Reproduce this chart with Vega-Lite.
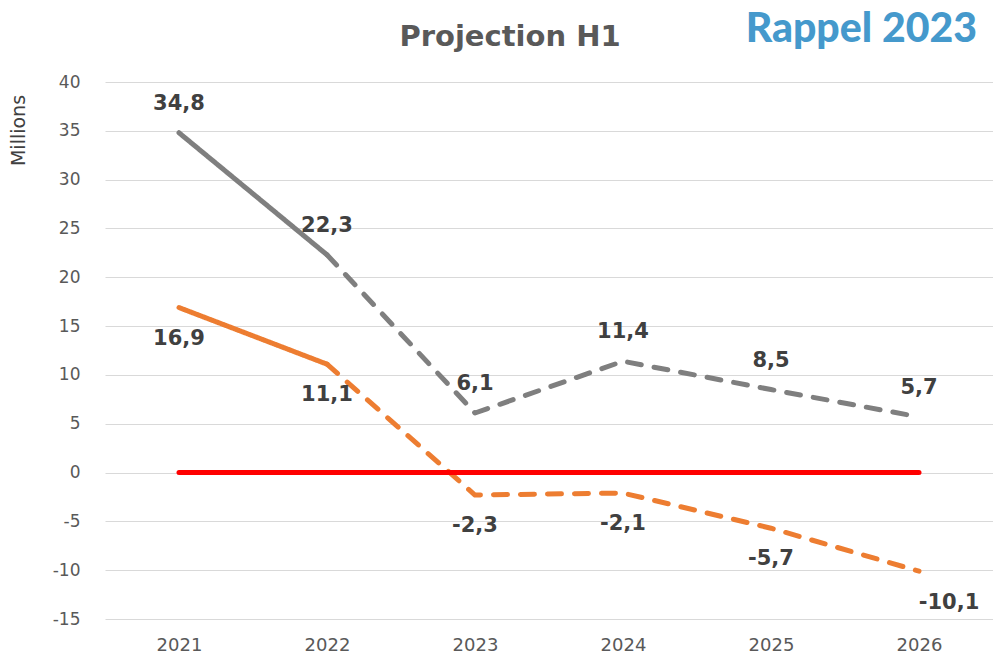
{
  "$schema": "https://vega.github.io/schema/vega-lite/v6.json",
  "width": 888,
  "height": 537,
  "autosize": {"type": "none"},
  "padding": {"left": 105, "top": 82, "right": 0, "bottom": 38},
  "background": "white",
  "title": {"text": "Projection H1", "font": "DejaVu Sans", "fontSize": 29, "fontWeight": "bold", "color": "#595959", "anchor": "middle", "dx": -39, "offset": -43},
  "config": {
    "view": {"stroke": null},
    "locale": {"number": {"decimal": ",", "thousands": " ", "grouping": [3], "currency": ["", " €"], "minus": "-"}},
    "axis": {"labelFont": "DejaVu Sans", "labelFontSize": 17, "labelColor": "#595959", "domain": false, "ticks": false, "titleFont": "DejaVu Sans", "titleFontWeight": "normal"}
  },
  "datasets": {
    "lines": [
      {"series": "gray", "year": "2021", "value": 34.8, "part": "solid"},
      {"series": "gray", "year": "2022", "value": 22.3, "part": "solid"},
      {"series": "gray", "year": "2022", "value": 22.3, "part": "dash"},
      {"series": "gray", "year": "2023", "value": 6.1, "part": "dash"},
      {"series": "gray", "year": "2024", "value": 11.4, "part": "dash"},
      {"series": "gray", "year": "2025", "value": 8.5, "part": "dash"},
      {"series": "gray", "year": "2026", "value": 5.7, "part": "dash"},
      {"series": "orange", "year": "2021", "value": 16.9, "part": "solid"},
      {"series": "orange", "year": "2022", "value": 11.1, "part": "solid"},
      {"series": "orange", "year": "2022", "value": 11.1, "part": "dash"},
      {"series": "orange", "year": "2023", "value": -2.3, "part": "dash"},
      {"series": "orange", "year": "2024", "value": -2.1, "part": "dash"},
      {"series": "orange", "year": "2025", "value": -5.7, "part": "dash"},
      {"series": "orange", "year": "2026", "value": -10.1, "part": "dash"}
    ],
    "points": [
      {"series": "gray", "year": "2021", "value": 34.8},
      {"series": "gray", "year": "2022", "value": 22.3},
      {"series": "gray", "year": "2023", "value": 6.1},
      {"series": "gray", "year": "2024", "value": 11.4},
      {"series": "gray", "year": "2025", "value": 8.5},
      {"series": "gray", "year": "2026", "value": 5.7},
      {"series": "orange", "year": "2021", "value": 16.9},
      {"series": "orange", "year": "2022", "value": 11.1},
      {"series": "orange", "year": "2023", "value": -2.3},
      {"series": "orange", "year": "2024", "value": -2.1},
      {"series": "orange", "year": "2025", "value": -5.7},
      {"series": "orange", "year": "2026", "value": -10.1}
    ],
    "zero": [
      {"year": "2021", "value": 0},
      {"year": "2026", "value": 0}
    ],
    "note": [
      {"year": "2026", "value": 45.3, "text": "Rappel 2023"}
    ]
  },
  "layer": [
    {
      "data": {"name": "lines"},
      "mark": {"type": "line", "strokeWidth": 5, "strokeCap": "round", "strokeJoin": "round"},
      "encoding": {
        "x": {"field": "year", "type": "ordinal", "scale": {"type": "point", "padding": 0.5}, "axis": {"title": null, "labelAngle": 0, "labelPadding": 17, "labelFontSize": 18}},
        "y": {"field": "value", "type": "quantitative", "scale": {"domain": [-15, 40], "nice": false, "zero": false},
          "axis": {"values": [-15, -10, -5, 0, 5, 10, 15, 20, 25, 30, 35, 40], "format": "d", "labelPadding": 25, "grid": true, "gridColor": "#d9d9d9", "gridWidth": 1.2,
            "title": "Millions", "titleFontSize": 19, "titleColor": "#404040", "titleAngle": -90, "titleX": -87, "titleY": 48, "titleAlign": "center", "titleBaseline": "middle"}},
        "color": {"field": "series", "type": "nominal", "scale": {"domain": ["gray", "orange"], "range": ["#7f7f7f", "#ed7d31"]}, "legend": null},
        "detail": {"field": "part"},
        "strokeDash": {"field": "part", "type": "nominal", "scale": {"domain": ["solid", "dash"], "range": [[1, 0], [14, 13]]}, "legend": null}
      }
    },
    {
      "data": {"name": "zero"},
      "mark": {"type": "line", "color": "#ff0000", "strokeWidth": 5, "strokeCap": "round"},
      "encoding": {
        "x": {"field": "year", "type": "ordinal"},
        "y": {"field": "value", "type": "quantitative"}
      }
    },
    {
      "data": {"name": "points"},
      "transform": [{"filter": "datum.series === 'gray'"}],
      "mark": {"type": "text", "font": "DejaVu Sans", "fontWeight": "bold", "fontSize": 21, "color": "#404040", "dy": -29, "baseline": "middle"},
      "encoding": {
        "x": {"field": "year", "type": "ordinal"},
        "y": {"field": "value", "type": "quantitative"},
        "text": {"field": "value", "type": "quantitative", "format": ".1f"}
      }
    },
    {
      "data": {"name": "points"},
      "transform": [{"filter": "datum.series === 'orange' && datum.year !== '2026'"}],
      "mark": {"type": "text", "font": "DejaVu Sans", "fontWeight": "bold", "fontSize": 21, "color": "#404040", "dy": 31, "baseline": "middle"},
      "encoding": {
        "x": {"field": "year", "type": "ordinal"},
        "y": {"field": "value", "type": "quantitative"},
        "text": {"field": "value", "type": "quantitative", "format": ".1f"}
      }
    },
    {
      "data": {"name": "points"},
      "transform": [{"filter": "datum.series === 'orange' && datum.year === '2026'"}],
      "mark": {"type": "text", "font": "DejaVu Sans", "fontWeight": "bold", "fontSize": 21, "color": "#404040", "dy": 32, "dx": 30, "baseline": "middle"},
      "encoding": {
        "x": {"field": "year", "type": "ordinal"},
        "y": {"field": "value", "type": "quantitative"},
        "text": {"field": "value", "type": "quantitative", "format": ".1f"}
      }
    },
    {
      "data": {"name": "note"},
      "mark": {"type": "text", "font": "Lato", "fontWeight": 900, "fontSize": 41, "color": "#4599cc", "align": "right", "dx": 58, "baseline": "middle", "clip": false},
      "encoding": {
        "x": {"field": "year", "type": "ordinal"},
        "y": {"field": "value", "type": "quantitative"},
        "text": {"field": "text", "type": "nominal"}
      }
    }
  ]
}
